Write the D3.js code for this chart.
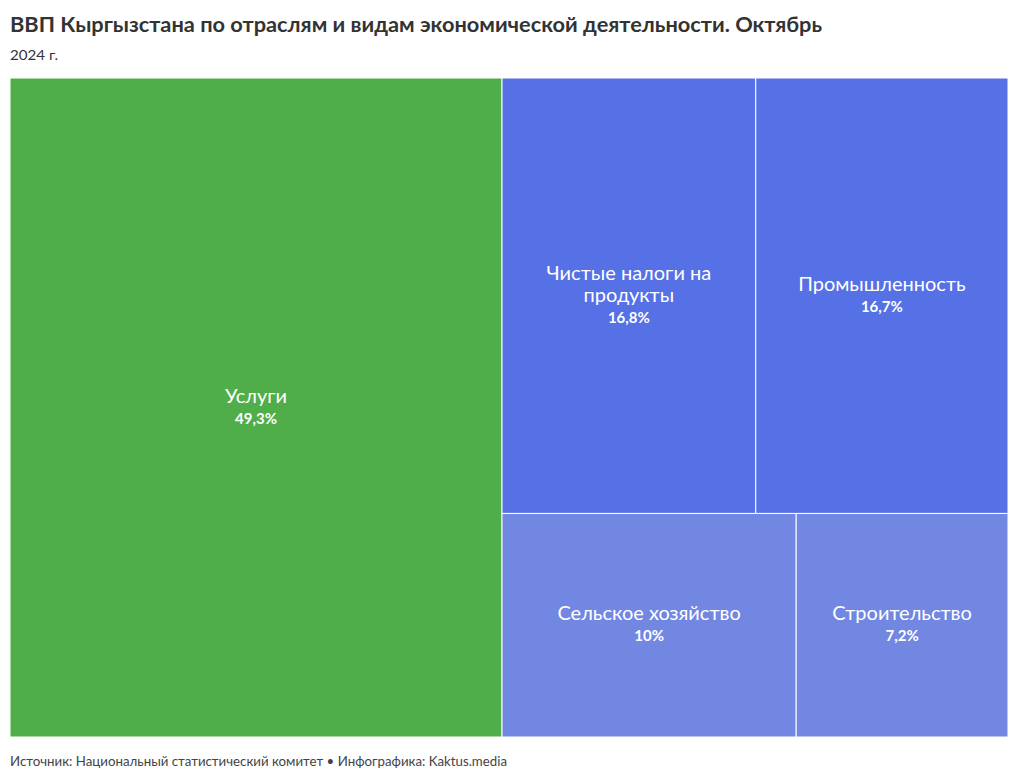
<!DOCTYPE html>
<html><head><meta charset="utf-8">
<script src="https://cdn.jsdelivr.net/npm/d3@7/dist/d3.min.js"></script>
<style>
html,body{margin:0;padding:0;background:#fff;}
svg text{font-family:"Source Sans Pro","Lato","Noto Sans",sans-serif;}
</style></head>
<body>
<svg id="chart" width="1020" height="780"></svg>
<script>
const categories = ["Услуги", "Чистые налоги на продукты", "Промышленность", "Сельское хозяйство", "Строительство"];
const labelLines = [["Услуги"], ["Чистые налоги на", "продукты"], ["Промышленность"], ["Сельское хозяйство"], ["Строительство"]];
const values = [49.3, 16.8, 16.7, 10, 7.2];
const valueLabels = ["49,3%", "16,8%", "16,7%", "10%", "7,2%"];
const groups = ["services", "blue", "blue", "light", "light"];
const title = "ВВП Кыргызстана по отраслям и видам экономической деятельности. Октябрь";
const subtitle = "2024 г.";
const footer = "Источник: Национальный статистический комитет • Инфографика: Kaktus.media";

const colors = {services: "#50ae4a", blue: "#5670e6", light: "#7287e2"};
const svg = d3.select("#chart");

const x0 = 10, y0 = 78, x1 = 1008, y1 = 737;

svg.append("text").attr("x", 10).attr("y", 32)
  .attr("font-size", 21).attr("font-weight", 700).attr("fill", "#333")
  .attr("textLength", 812).attr("lengthAdjust", "spacingAndGlyphs").text(title);
svg.append("text").attr("x", 10).attr("y", 60).attr("font-size", 14).attr("fill", "#333")
  .attr("textLength", 48).attr("lengthAdjust", "spacingAndGlyphs").text(subtitle);
svg.append("text").attr("x", 10).attr("y", 766).attr("font-size", 13).attr("fill", "#444")
  .attr("textLength", 497).attr("lengthAdjust", "spacingAndGlyphs").text(footer);

const data = {children: categories.map((c, i) => ({name: c, lines: labelLines[i], value: values[i], label: valueLabels[i], group: groups[i]}))};
const root = d3.hierarchy(data).sum(d => d.value || 0);
d3.treemap().tile(d3.treemapSquarify).size([x1 - x0, y1 - y0]).round(false)(root);

const g = svg.append("g").attr("transform", `translate(${x0},${y0})`);
const cell = g.selectAll("g.cell").data(root.leaves()).join("g").attr("class", "cell");
cell.append("rect")
  .attr("x", d => d.x0).attr("y", d => d.y0)
  .attr("width", d => d.x1 - d.x0).attr("height", d => d.y1 - d.y0)
  .attr("fill", d => colors[d.data.group])
  .attr("stroke", "#fff").attr("stroke-width", 1);

cell.each(function(d) {
  const sel = d3.select(this);
  const cx = (d.x0 + d.x1) / 2, cy = (d.y0 + d.y1) / 2;
  const lines = d.data.lines;
  const lh = 22;
  const total = lines.length * lh + 20;
  let y = cy - total / 2 + 16;
  lines.forEach((ln, i) => {
    sel.append("text").attr("x", cx).attr("y", y + i * lh).attr("text-anchor", "middle")
      .attr("font-size", 20).attr("fill", "#fff").text(ln);
  });
  sel.append("text").attr("x", cx).attr("y", y + (lines.length - 1) * lh + 21).attr("text-anchor", "middle")
    .attr("font-size", 15).attr("font-weight", 700).attr("fill", "#fff").text(d.data.label);
});
</script>
</body></html>
